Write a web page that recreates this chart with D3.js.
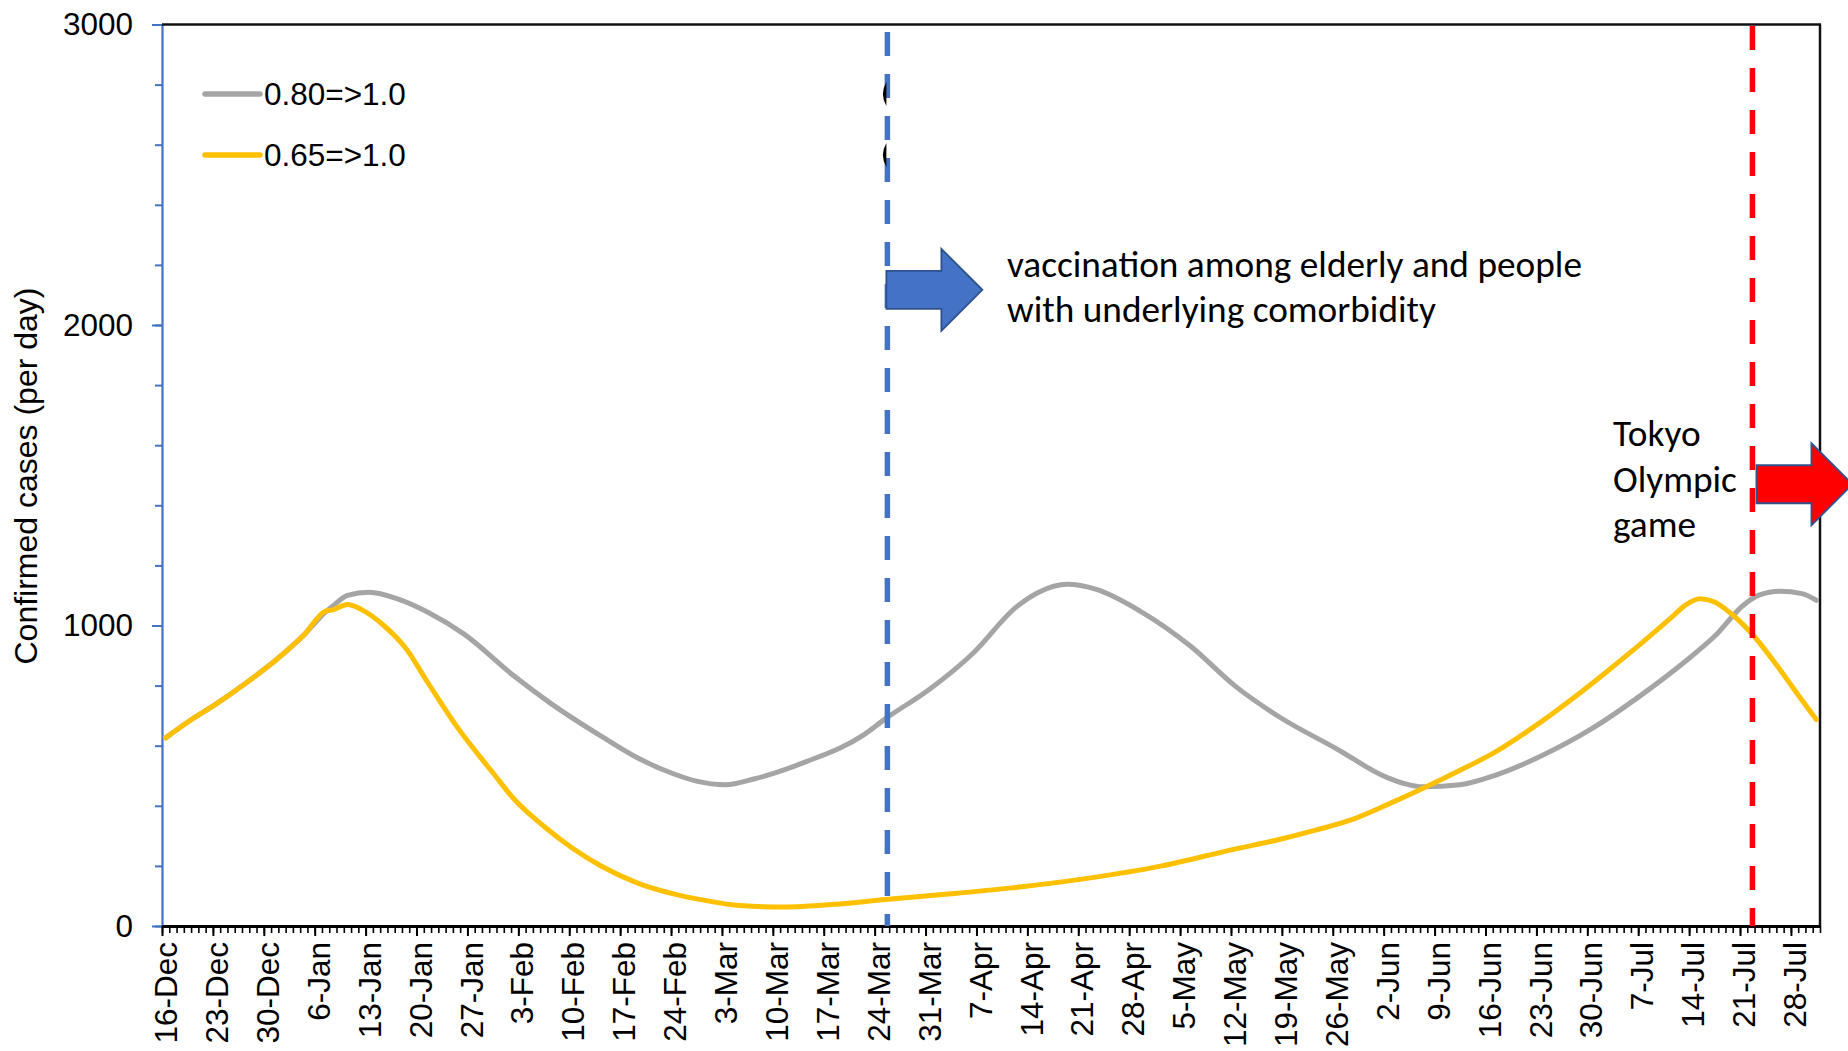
<!DOCTYPE html>
<html>
<head>
<meta charset="utf-8">
<script src="https://cdnjs.cloudflare.com/ajax/libs/d3/7.8.5/d3.min.js"></script>
<style>
  html, body { margin: 0; padding: 0; background: #ffffff; }
  svg { display: block; }
  .arial { font-family: "Liberation Sans", Arial, sans-serif; }
</style>
</head>
<body>
<svg id="chart" width="1848" height="1051"></svg>
<script>
// ---------------- DATA ----------------
const seriesNames = ["0.80=>1.0", "0.65=>1.0"];
const seriesColors = ["#A5A5A5", "#FFC000"];

const grayDates = ["2020-12-16","2020-12-19","2020-12-23","2020-12-27","2020-12-31","2021-01-04","2021-01-07","2021-01-08","2021-01-10","2021-01-13","2021-01-17","2021-01-21","2021-01-26","2021-02-02","2021-02-07","2021-02-14","2021-02-19","2021-02-24","2021-02-27","2021-03-03","2021-03-07","2021-03-14","2021-03-22","2021-03-25","2021-03-31","2021-04-06","2021-04-12","2021-04-15","2021-04-19","2021-04-23","2021-04-29","2021-05-06","2021-05-12","2021-05-18","2021-05-26","2021-06-02","2021-06-07","2021-06-12","2021-06-17","2021-06-23","2021-06-30","2021-07-07","2021-07-13","2021-07-17","2021-07-21","2021-07-23","2021-07-26","2021-07-29","2021-07-31"];
const grayValues = [626,678,740,808,882,968,1045,1065,1100,1111,1088,1045,972,830,740,630,558,505,482,470,490,546,636,690,787,907,1062,1110,1137,1120,1048,930,800,698,590,494,463,470,503,564,655,770,881,964,1068,1100,1114,1106,1084];

const yellowDates = ["2020-12-16","2020-12-19","2020-12-23","2020-12-27","2020-12-31","2021-01-04","2021-01-07","2021-01-08","2021-01-10","2021-01-12","2021-01-15","2021-01-18","2021-01-21","2021-01-25","2021-01-30","2021-02-02","2021-02-06","2021-02-10","2021-02-14","2021-02-19","2021-02-24","2021-02-28","2021-03-05","2021-03-11","2021-03-18","2021-03-25","2021-04-03","2021-04-11","2021-04-21","2021-05-02","2021-05-12","2021-05-18","2021-05-23","2021-05-28","2021-06-02","2021-06-07","2021-06-12","2021-06-17","2021-06-22","2021-06-27","2021-07-02","2021-07-07","2021-07-11","2021-07-13","2021-07-15","2021-07-17","2021-07-19","2021-07-22","2021-07-26","2021-07-29","2021-07-31"];
const yellowValues = [626,678,740,808,882,968,1048,1052,1070,1052,1000,925,812,665,510,420,332,258,198,142,106,86,68,63,72,88,107,126,156,200,256,287,318,353,404,459,518,581,660,748,843,942,1025,1068,1089,1078,1045,976,853,752,687];

const xTickDates = ["2020-12-16","2020-12-23","2020-12-30","2021-01-06","2021-01-13","2021-01-20","2021-01-27","2021-02-03","2021-02-10","2021-02-17","2021-02-24","2021-03-03","2021-03-10","2021-03-17","2021-03-24","2021-03-31","2021-04-07","2021-04-14","2021-04-21","2021-04-28","2021-05-05","2021-05-12","2021-05-19","2021-05-26","2021-06-02","2021-06-09","2021-06-16","2021-06-23","2021-06-30","2021-07-07","2021-07-14","2021-07-21","2021-07-28"];
const xDomain = ["2020-12-16", "2021-08-01"];
const yMajorTicks = [0, 1000, 2000, 3000];
const yMinorTicks = d3.range(0, 3001, 200);
const yTitle = "Confirmed cases (per day)";

const vaccinationLine = "2021-03-25T18:00:00Z";
const olympicLine = "2021-07-22T17:00:00Z";
const vaccinationText = ["vaccination among elderly and people", "with underlying comorbidity"];
const olympicText = ["Tokyo", "Olympic", "game"];

// ---------------- DRAW ----------------
(function draw() {
const parseDay = d3.utcParse("%Y-%m-%d");
const fmt = d3.utcFormat("%-d-%b");
const HALF_DAY = 12 * 3600 * 1000;
const svg = d3.select("#chart");
const FS = 31.5;

const pLeft = 162, pRight = 1820, pTop = 24.5, pBottom = 926;
const x = d3.scaleUtc().domain(xDomain.map(parseDay)).range([pLeft, pRight]);
const y = d3.scaleLinear().domain([0, 3000]).range([pBottom, pTop]);

const mid = d => new Date(d.getTime() + HALF_DAY);

// y axis (blue)
const yMinor = svg.append("g").attr("transform", `translate(${pLeft},0)`)
  .call(d3.axisLeft(y).tickValues(yMinorTicks).tickSize(7).tickFormat(""));
yMinor.select(".domain").remove();
yMinor.selectAll("line").attr("stroke", "#4472C4").attr("stroke-width", 2);

const yMajor = svg.append("g").attr("transform", `translate(${pLeft},0)`)
  .call(d3.axisLeft(y).tickValues(yMajorTicks).tickSize(10).tickSizeOuter(0).tickPadding(19).tickFormat(d3.format("d")));
yMajor.select(".domain").attr("stroke", "#4472C4").attr("stroke-width", 2.2);
yMajor.selectAll("line").attr("stroke", "#4472C4").attr("stroke-width", 2);
yMajor.selectAll("text").attr("class", "arial").attr("font-size", FS).attr("fill", "#000");

svg.append("text").attr("class", "arial")
  .attr("transform", `translate(26,476) rotate(-90)`)
  .attr("text-anchor", "middle").attr("dominant-baseline", "central")
  .attr("font-size", 32).attr("fill", "#000").text(yTitle);

// frame
svg.append("line").attr("x1", pLeft).attr("x2", pRight + 1).attr("y1", pTop).attr("y2", pTop)
  .attr("stroke", "#111").attr("stroke-width", 2.5);
svg.append("line").attr("x1", pRight).attr("x2", pRight).attr("y1", pTop).attr("y2", pBottom)
  .attr("stroke", "#111").attr("stroke-width", 2.5);

// x axis
const dayBounds = d3.utcDay.range(x.domain()[0], new Date(x.domain()[1].getTime() + 1));
const xMinor = svg.append("g").attr("transform", `translate(0,${pBottom})`)
  .call(d3.axisBottom(x).tickValues(dayBounds).tickSize(7).tickFormat(""));
xMinor.select(".domain").remove();
xMinor.selectAll("line").attr("stroke", "#000").attr("stroke-width", 1.6);

const tickDates = xTickDates.map(parseDay);
const xMajor = svg.append("g").attr("transform", `translate(0,${pBottom})`)
  .call(d3.axisBottom(x).tickValues(tickDates).tickSize(10).tickSizeOuter(0).tickFormat(""));
xMajor.select(".domain").attr("stroke", "#000").attr("stroke-width", 3);
xMajor.selectAll("line").attr("stroke", "#000").attr("stroke-width", 2);

const xLabels = svg.append("g").attr("transform", `translate(0,${pBottom})`)
  .call(d3.axisBottom(x).tickValues(tickDates.map(mid)).tickSize(0).tickFormat(d => fmt(new Date(d.getTime() - HALF_DAY))));
xLabels.select(".domain").remove();
xLabels.selectAll("text")
  .attr("class", "arial").attr("font-size", FS).attr("fill", "#000")
  .attr("text-anchor", "end")
  .attr("transform", "rotate(-90)")
  .attr("x", -16).attr("y", 0).attr("dy", "0.35em");

// series
const line = d3.line().x(d => x(mid(d.date))).y(d => y(d.value)).curve(d3.curveMonotoneX);
const series = [
  grayDates.map((d, i) => ({ date: parseDay(d), value: grayValues[i] })),
  yellowDates.map((d, i) => ({ date: parseDay(d), value: yellowValues[i] }))
];
series.forEach((s, i) => {
  svg.append("path").datum(s).attr("d", line)
    .attr("fill", "none").attr("stroke", seriesColors[i]).attr("stroke-width", 5)
    .attr("stroke-linecap", "round").attr("stroke-linejoin", "round");
});

// legend
const legendRows = [94, 155];
seriesNames.forEach((n, i) => {
  svg.append("line").attr("x1", 205).attr("x2", 260).attr("y1", legendRows[i]).attr("y2", legendRows[i])
    .attr("stroke", seriesColors[i]).attr("stroke-width", 5.5).attr("stroke-linecap", "round");
  svg.append("text").attr("class", "arial").attr("x", 264).attr("y", legendRows[i])
    .attr("dominant-baseline", "central").attr("font-size", FS).attr("fill", "#000").text(n);
});

// annotation lines
const vx = x(new Date(vaccinationLine));
const ox = x(new Date(olympicLine));

svg.append("line").attr("x1", vx).attr("x2", vx).attr("y1", 32).attr("y2", pBottom)
  .attr("stroke", "#4472C4").attr("stroke-width", 5.5).attr("stroke-dasharray", "24 18");
svg.append("line").attr("x1", ox).attr("x2", ox).attr("y1", 26).attr("y2", pBottom)
  .attr("stroke", "#FF0000").attr("stroke-width", 5.5).attr("stroke-dasharray", "24 18");

// small dark fragments beside the blue line
legendRows.forEach(r => {
  svg.append("path")
    .attr("d", `M${vx-1},${r-12} Q${vx-8},${r} ${vx-1},${r+12} Z`)
    .attr("fill", "#000");
});

// arrows
function arrowPath(x0, cy) {
  const shaftH = 19, headH = 41, shaftL = 55, tipL = 96;
  return `M${x0},${cy-shaftH} L${x0+shaftL},${cy-shaftH} L${x0+shaftL},${cy-headH} L${x0+tipL},${cy} ` +
         `L${x0+shaftL},${cy+headH} L${x0+shaftL},${cy+shaftH} L${x0},${cy+shaftH} Z`;
}
svg.append("path").attr("d", arrowPath(vx - 1, y(2117)))
  .attr("fill", "#4472C4").attr("stroke", "#2F528F").attr("stroke-width", 1.8);
svg.append("path").attr("d", arrowPath(ox + 4, y(1470)))
  .attr("fill", "#FF0000").attr("stroke", "#2F528F").attr("stroke-width", 1.8);

// annotation texts (Calibri-like), fitted to the reference width
const annFont = "Carlito, Lato, 'Noto Sans', sans-serif";
const probe = svg.append("text").attr("font-family", annFont).attr("font-size", 36).text(vaccinationText[0]);
const w36 = probe.node().getComputedTextLength();
probe.remove();
const annSize = 36 * 575 / w36;

const vt = svg.append("text").attr("font-family", annFont).attr("font-size", annSize).attr("fill", "#000");
vaccinationText.forEach((t, i) => {
  vt.append("tspan").attr("x", 1007).attr("y", 277 + i * 45).text(t);
});
const ot = svg.append("text").attr("font-family", annFont).attr("font-size", annSize).attr("fill", "#000");
olympicText.forEach((t, i) => {
  ot.append("tspan").attr("x", 1613).attr("y", 446 + i * 45.5).text(t);
});
})();
</script>
</body>
</html>
